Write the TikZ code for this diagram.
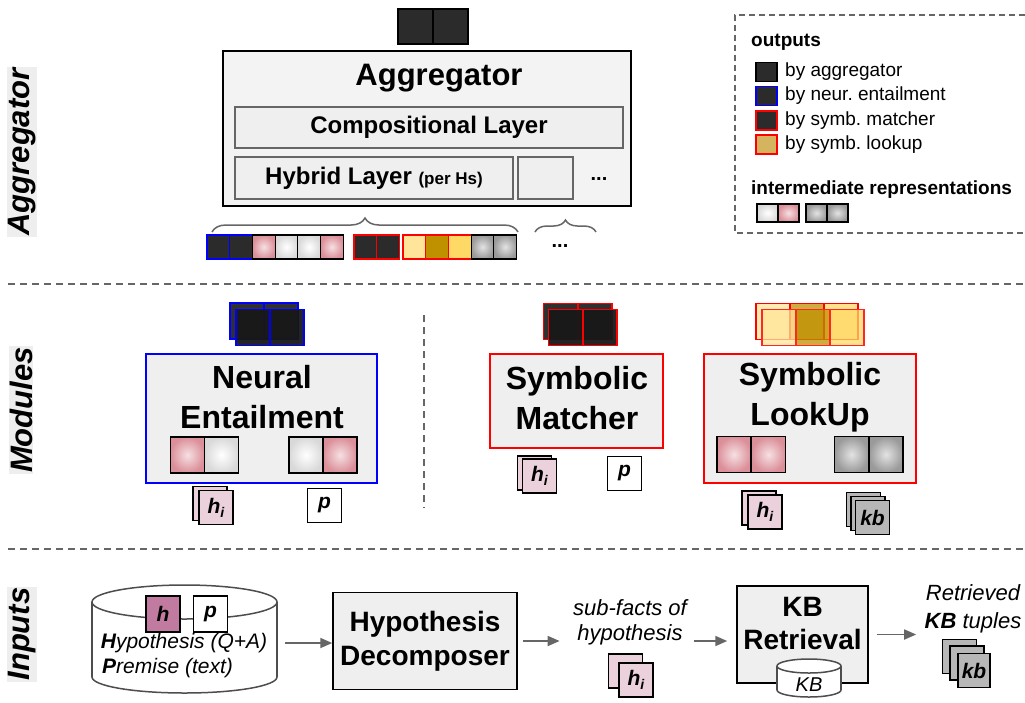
\documentclass[tikz,border=0pt]{standalone}
\usepackage{fontspec}
\setmainfont{Liberation Sans}
\usetikzlibrary{arrows.meta,decorations.pathreplacing}

\definecolor{boxfill}{HTML}{EFEFEF}
\definecolor{aggfill}{HTML}{F3F3F3}
\definecolor{linegray}{HTML}{666666}
\definecolor{cylgray}{HTML}{4D4D4D}
\definecolor{darkfill}{HTML}{2B2B2B}
\definecolor{backfill}{HTML}{303030}
\definecolor{ghostfill}{HTML}{181818}
\definecolor{pinkin}{HTML}{F6E0E3}
\definecolor{pinkout}{HTML}{DB8F99}
\definecolor{whiteout}{HTML}{D9D9D9}
\definecolor{grayin}{HTML}{E3E3E3}
\definecolor{grayout}{HTML}{9A9A9A}
\definecolor{lightgold}{HTML}{FFE599}
\definecolor{darkgold}{HTML}{BF9000}
\definecolor{midgold}{HTML}{FFD966}
\definecolor{leggold}{HTML}{D5B45F}
\definecolor{hipink}{HTML}{EAD1DC}
\definecolor{hpink}{HTML}{C27BA0}
\definecolor{kbgray}{HTML}{B7B7B7}
\definecolor{tabgray}{HTML}{EEEEEE}

\newcommand{\pxfont}[2]{\fontsize{#1}{#2}\selectfont}
\newcommand{\hilabel}{h\raisebox{-0.35ex}{\pxfont{14}{14}i}}
\frenchspacing

\begin{document}
\begin{tikzpicture}[x=1pt,y=-1pt]
\tikzset{
  cell/.style={draw=black, line width=1.2pt, inner sep=0pt, minimum width=34pt, minimum height=36pt},
  tinycell/.style={cell, minimum width=22.7pt, minimum height=24pt},
  legcell/.style={cell, minimum width=21pt, minimum height=19pt},
  pinkcell/.style={inner color=pinkin, outer color=pinkout},
  whitecell/.style={inner color=white, outer color=whiteout},
  graycell/.style={inner color=grayin, outer color=grayout},
  darkcell/.style={fill=darkfill},
  backghost/.style={fill=backfill, line width=1.5pt},
  ghost/.style={fill=ghostfill, fill opacity=0.95, line width=1.5pt},
  goldghost/.style={fill opacity=0.75, line width=1.5pt},
  modbox/.style={draw, line width=1.5pt, fill=boxfill, inner sep=0pt},
  layerbox/.style={modbox, draw=linegray, font=\pxfont{24}{24}\bfseries},
  modtitle/.style={align=center, font=\pxfont{32}{40}\bfseries},
  card/.style={draw, line width=1.2pt, minimum width=34pt, minimum height=34pt, inner sep=0pt, font=\pxfont{21}{21}\bfseries\itshape},
  flow/.style={draw=linegray, line width=1.8pt, -{Triangle[length=12pt,width=10pt]}},
  sepline/.style={draw=linegray, line width=1.6pt, dash pattern=on 7pt off 5pt},
  sidetab/.style={rotate=90, fill=tabgray, inner sep=1pt, font=\pxfont{31}{31}\bfseries\itshape},
  legtext/.style={anchor=west, inner sep=0pt, font=\pxfont{19}{19}},
}
\useasboundingbox (0,0) rectangle (1025,702);

% section tabs and separators
\node[sidetab] (tabagg) at (22,152) {Aggregator};
\node[sidetab] (tabmod) at (21,410) {Modules};
\node[sidetab] (tabin) at (22,634) {Inputs};
\draw[sepline] (8,284) -- (1025,284);
\draw[sepline] (8,549) -- (1025,549);
\draw[sepline] (424,315) -- (424,508);

% aggregator
\node[cell, darkcell, minimum width=35pt, minimum height=35pt] (aggout1) at (415.5,26.5) {};
\node[cell, darkcell, minimum width=35pt, minimum height=35pt] (aggout2) at (450.5,26.5) {};
\node[modbox, fill=aggfill, minimum width=408pt, minimum height=155pt] (agg) at (427,128.5) {};
\node[font=\pxfont{31}{31}\bfseries] (aggtitle) at (439,78) {Aggregator};
\node[layerbox, minimum width=388pt, minimum height=41pt] (comp) at (429,127.5) {Compositional Layer};
\node[layerbox, minimum width=278pt, minimum height=42pt] (hybrid) at (374,178) {Hybrid Layer {\pxfont{17}{17}(per Hs)}};
\node[layerbox, minimum width=55pt, minimum height=42pt] (hybrid2) at (545.5,178) {};
\node[font=\pxfont{20}{20}\bfseries] (hybdots) at (599,179) {...};
\draw[decorate, decoration={brace, amplitude=14pt}, draw=linegray, line width=1.5pt] (212,232) -- (518,232);
\draw[decorate, decoration={brace, amplitude=12pt}, draw=linegray, line width=1.5pt] (535,232) -- (596,232);

% aggregator inputs
\node[tinycell, darkcell, draw=blue] (in1) at (218.4,247) {};
\node[tinycell, darkcell, draw=blue] (in2) at (241,247) {};
\node[tinycell, pinkcell] (in3) at (263.8,247) {};
\node[tinycell, whitecell] (in4) at (286.5,247) {};
\node[tinycell, whitecell] (in5) at (309.2,247) {};
\node[tinycell, pinkcell] (in6) at (331.9,247) {};
\node[tinycell, darkcell, draw=red] (in7) at (365.4,247) {};
\node[tinycell, darkcell, draw=red] (in8) at (388.1,247) {};
\node[tinycell, fill=lightgold, draw=red] (in9) at (414.4,247) {};
\node[tinycell, fill=darkgold, draw=red] (in10) at (437.1,247) {};
\node[tinycell, fill=midgold, draw=red] (in11) at (459.8,247) {};
\node[tinycell, graycell] (in12) at (482.5,247) {};
\node[tinycell, graycell] (in13) at (505.2,247) {};
\node[font=\pxfont{20}{20}\bfseries] (indots) at (560,246) {...};

% legend
\draw[draw=linegray, line width=1.5pt, dash pattern=on 6pt off 4pt] (1025,15) -- (735,15) -- (735,233) -- (1025,233);
\node[legtext, font=\pxfont{19}{19}\bfseries] (legout) at (751,42) {outputs};
\node[legcell, darkcell] (leg1) at (766.5,72) {};
\node[legtext] (legt1) at (785,72) {by aggregator};
\node[legcell, darkcell, draw=blue] (leg2) at (766.5,96) {};
\node[legtext] (legt2) at (785,96) {by neur. entailment};
\node[legcell, darkcell, draw=red] (leg3) at (766.5,120.5) {};
\node[legtext] (legt3) at (785,120.5) {by symb. matcher};
\node[legcell, fill=leggold, draw=red] (leg4) at (766.5,144.5) {};
\node[legtext] (legt4) at (785,144.5) {by symb. lookup};
\node[legtext, font=\pxfont{19}{19}\bfseries] (legint) at (751,190) {intermediate representations};
\node[legcell, whitecell, minimum height=18pt] (legi1) at (767.5,213) {};
\node[legcell, pinkcell, minimum height=18pt] (legi2) at (788.5,213) {};
\node[legcell, graycell, minimum height=18pt] (legi3) at (816.5,213) {};
\node[legcell, graycell, minimum height=18pt] (legi4) at (837.5,213) {};

% neural entailment
\node[cell, backghost, draw=blue] (neb1) at (247,321) {};
\node[cell, backghost, draw=blue] (neb2) at (281,321) {};
\node[cell, ghost, draw=blue] (nef1) at (253,327.5) {};
\node[cell, ghost, draw=blue] (nef2) at (287,327.5) {};
\node[modbox, draw=blue, minimum width=231pt, minimum height=129pt] (neural) at (261.5,418.5) {};
\node[modtitle] (neuraltitle) at (262,397) {Neural\\Entailment};
\node[cell, pinkcell] (nehp) at (187.5,455) {};
\node[cell, whitecell] (nehw) at (221.5,455) {};
\node[cell, whitecell] (nepw) at (306,455) {};
\node[cell, pinkcell] (nepp) at (340,455) {};
\node[card, fill=hipink] (nehiback) at (210,503.5) {};
\node[card, fill=hipink] (nehi) at (216,507.5) {\hilabel};
\node[card, fill=white] (nep) at (324.5,505.5) {p};

% symbolic matcher
\node[cell, backghost, draw=red] (smb1) at (560.5,321.5) {};
\node[cell, backghost, draw=red] (smb2) at (595,321.5) {};
\node[cell, ghost, draw=red] (smf1) at (565.5,327.5) {};
\node[cell, ghost, draw=red] (smf2) at (600,327.5) {};
\node[modbox, draw=red, minimum width=173pt, minimum height=94pt] (matcher) at (576.5,401) {};
\node[modtitle] (matchertitle) at (577,398) {Symbolic\\Matcher};
\node[card, fill=hipink] (smhiback) at (534.5,473) {};
\node[card, fill=hipink] (smhi) at (539.5,476) {\hilabel};
\node[card, fill=white] (smp) at (624.5,473.5) {p};

% symbolic lookup
\node[cell, goldghost, fill=lightgold, draw=red] (slb1) at (773,321.5) {};
\node[cell, goldghost, fill=darkgold, draw=red] (slb2) at (807,321.5) {};
\node[cell, goldghost, fill=midgold, draw=red] (slb3) at (841,321.5) {};
\node[cell, goldghost, fill=lightgold, draw=red!85] (slf1) at (779,327.5) {};
\node[cell, goldghost, fill=darkgold, draw=red!85] (slf2) at (813,327.5) {};
\node[cell, goldghost, fill=midgold, draw=red!85] (slf3) at (847,327.5) {};
\node[modbox, draw=red, minimum width=212pt, minimum height=129pt] (lookup) at (810,418.5) {};
\node[modtitle] (lookuptitle) at (810,397) {Symbolic\\LookUp};
\node[cell, pinkcell] (slh1) at (734,454.5) {};
\node[cell, pinkcell] (slh2) at (768.5,454.5) {};
\node[cell, graycell] (slk1) at (851.5,454.5) {};
\node[cell, graycell] (slk2) at (886,454.5) {};
\node[card, fill=hipink] (slhiback) at (759,508) {};
\node[card, fill=hipink] (slhi) at (765,512) {\hilabel};
\node[card, fill=kbgray] (slkbback) at (863.5,509.5) {};
\node[card, fill=kbgray] (slkbmid) at (868,513.5) {};
\node[card, fill=kbgray] (slkb) at (872.5,517.5) {kb};

% inputs
\filldraw[draw=cylgray, fill=white, line width=1.5pt] (184.5,677) ellipse[x radius=92.5, y radius=16];
\fill[white] (92,602) rectangle (277,677);
\draw[draw=cylgray, line width=1.5pt] (92,602) -- (92,677) (277,602) -- (277,677);
\filldraw[draw=cylgray, fill=white, line width=1.5pt] (184.5,602) ellipse[x radius=92.5, y radius=17];
\node[minimum width=185pt, minimum height=108pt, inner sep=0pt] (corpus) at (184.5,643) {};
\node[card, fill=hpink, minimum height=36pt] (hin) at (163,614) {h};
\node[card, fill=white, minimum height=36pt] (pin) at (210.5,614) {p};
\node[font=\pxfont{21}{21}\itshape] (hyptext) at (184,643) {\textbf{H}ypothesis (Q+A)};
\node[font=\pxfont{21}{21}\itshape, anchor=west, inner sep=0pt] (premtext) at (102,668) {\textbf{P}remise (text)};

\node[modbox, draw=black, minimum width=184pt, minimum height=97pt, align=center, font=\pxfont{28}{34}\bfseries] (decomp) at (425,641) {Hypothesis\\Decomposer};
\node[align=center, font=\pxfont{22}{25}\itshape] (subfacts) at (630,622) {sub-facts of\\hypothesis};
\node[card, fill=hipink] (subhiback) at (625.5,671) {};
\node[card, fill=hipink] (subhi) at (636,680) {\hilabel};

\node[modbox, draw=black, minimum width=131pt, minimum height=97pt] (kbret) at (802.5,634.5) {};
\node[align=center, font=\pxfont{28}{33}\bfseries] (kbtitle) at (802.5,623) {KB\\Retrieval};
\filldraw[draw=cylgray, fill=white, line width=1.5pt] (809,690) ellipse[x radius=32, y radius=7];
\fill[white] (777,666) rectangle (841,690);
\draw[draw=cylgray, line width=1.5pt] (777,666) -- (777,690) (841,666) -- (841,690);
\filldraw[draw=cylgray, fill=white, line width=1.5pt] (809,666) ellipse[x radius=32, y radius=7];
\node[font=\pxfont{20}{20}\itshape] (kbstore) at (809,685) {KB};

\node[align=center, font=\pxfont{22}{28}\itshape] (retrieved) at (973,609) {Retrieved\\\textbf{KB} tuples};
\node[card, fill=kbgray] (tupback) at (959.5,656.5) {};
\node[card, fill=kbgray] (tupmid) at (967,663) {};
\node[card, fill=kbgray, minimum width=32pt] (tup) at (974,670.5) {kb};

% flow arrows
\draw[flow, shorten <=8pt] (corpus.east) -- (corpus.east -| decomp.west);
\draw[flow, shorten <=5pt, shorten >=10pt] (decomp.east) -- (decomp.east -| subfacts.west);
\draw[flow, shorten <=4pt, shorten >=9pt] (subfacts.east |- decomp.east) -- (decomp.east -| kbret.west);
\draw[flow, shorten <=8pt, shorten >=5pt] (kbret.east) -- (kbret.east -| retrieved.west);
\end{tikzpicture}
\end{document}
